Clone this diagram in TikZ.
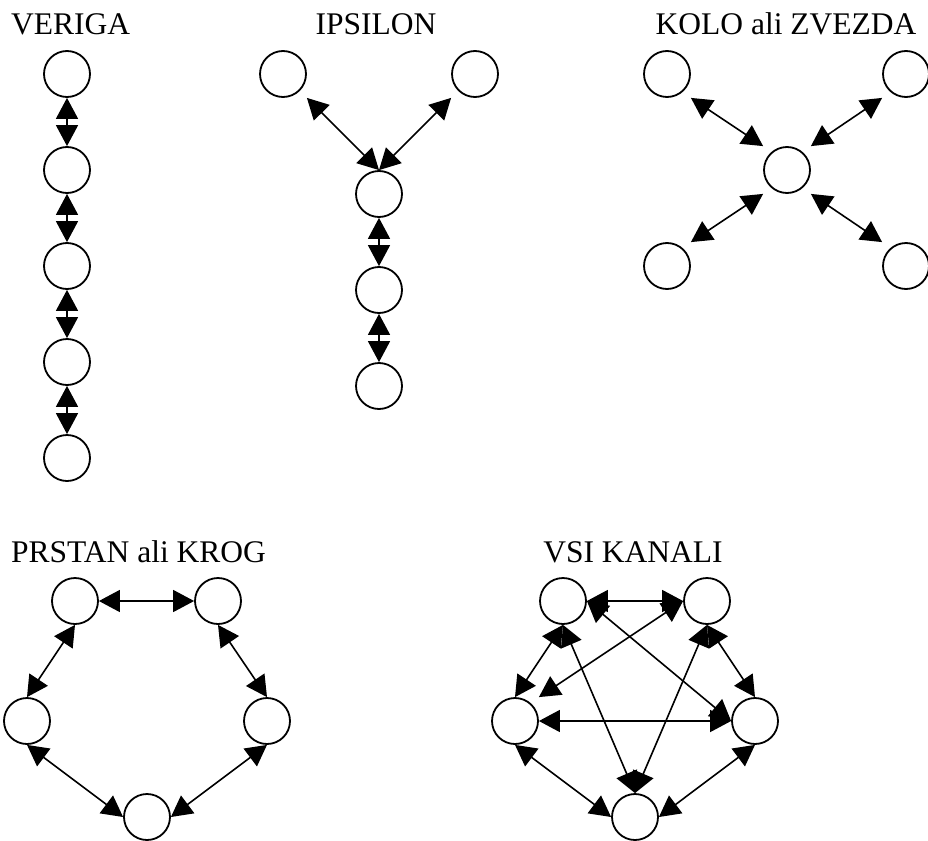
\documentclass[tikz,border=0pt]{standalone}
\usepackage{fontspec}
\setmainfont{Liberation Serif}
\usetikzlibrary{arrows.meta}
\begin{document}
\begin{tikzpicture}[x=1pt,y=-1pt,
  station/.style={circle,draw,line width=1.8pt,minimum size=46pt,inner sep=0pt},
  link/.style={line width=1.6pt,{Triangle[width=22pt,length=21pt]}-{Triangle[width=22pt,length=21pt]}},
  heading/.style={font=\fontsize{31.5}{36}\selectfont,inner sep=0pt}]
\useasboundingbox (0,0) rectangle (928,840);

% VERIGA: a chain
\node[heading,anchor=base west] (tv) at (11,35) {VERIGA};
\foreach \i/\y in {1/74,2/170,3/266,4/362,5/458}
  \node[station] (v\i) at (67,\y) {};
\foreach \a/\b in {1/2,2/3,3/4,4/5}
  \draw[link] (v\a.south) -- (v\b.north);

% IPSILON
\node[heading,anchor=base] (ty) at (376,35) {IPSILON};
\node[station] (y1) at (283,74) {};
\node[station] (y2) at (475,74) {};
\node[station] (y3) at (379,194) {};
\node[station] (y4) at (379,290) {};
\node[station] (y5) at (379,386) {};
\draw[link] (y1.east |- y1.south) -- (y3.north);
\draw[link] (y2.west |- y2.south) -- (y3.north);
\draw[link] (y3.south) -- (y4.north);
\draw[link] (y4.south) -- (y5.north);

% KOLO ali ZVEZDA: a star
\node[heading,anchor=base] (tk) at (786,35) {KOLO ali ZVEZDA};
\node[station] (k0) at (787,170) {};
\node[station] (k1) at (667,74) {};
\node[station] (k2) at (906,74) {};
\node[station] (k3) at (667,266) {};
\node[station] (k4) at (906,266) {};
\draw[link] (k1.east |- k1.south) -- (k0.west |- k0.north);
\draw[link] (k2.west |- k2.south) -- (k0.east |- k0.north);
\draw[link] (k3.east |- k3.north) -- (k0.west |- k0.south);
\draw[link] (k4.west |- k4.north) -- (k0.east |- k0.south);

% PRSTAN ali KROG: a ring
\node[heading,anchor=base west] (tp) at (11,562) {PRSTAN ali KROG};
\node[station] (p1) at (75,601) {};
\node[station] (p2) at (218,601) {};
\node[station] (p3) at (27,721) {};
\node[station] (p4) at (267,721) {};
\node[station] (p5) at (147,817) {};
\draw[link] (p1.east) -- (p2.west);
\draw[link] (p1.south) -- (p3.north);
\draw[link] (p2.south) -- (p4.north);
\draw[link] (p3.south) -- (p5.west);
\draw[link] (p5.east) -- (p4.south);

% VSI KANALI: every pair linked
\node[heading,anchor=base] (ts) at (633,562) {VSI KANALI};
\node[station] (s1) at (563,601) {};
\node[station] (s2) at (707,601) {};
\node[station] (s3) at (515,721) {};
\node[station] (s4) at (755,721) {};
\node[station] (s5) at (635,817) {};
\draw[link] (s1.east) -- (s2.west);
\draw[link] (s1.south) -- (s3.north);
\draw[link] (s2.south) -- (s4.north);
\draw[link] (s3.east) -- (s4.west);
\draw[link] (s3.south) -- (s5.west);
\draw[link] (s5.east) -- (s4.south);
\draw[link] (s1.south) -- (s5.north);
\draw[link] (s2.south) -- (s5.north);
\draw[link] (s1.east) -- (s4.west);
\draw[link] (s2.west) -- (s3.east |- s3.north);
\end{tikzpicture}
\end{document}
